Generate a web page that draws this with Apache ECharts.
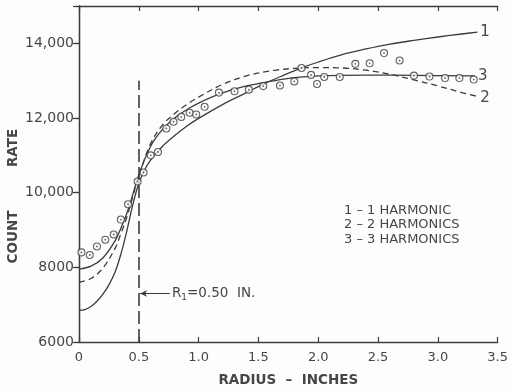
<!DOCTYPE html>
<html>
<head>
<meta charset="utf-8">
<script src="https://cdn.jsdelivr.net/npm/echarts@6/dist/echarts.min.js"></script>
<style>
  html, body { margin: 0; padding: 0; background: #fdfdfc; }
  #chart { width: 511px; height: 392px; }
</style>
</head>
<body>
<div id="chart"></div>
<script>
// Measured count rate against radius, with 1-, 2- and 3-harmonic fits.
const pointRadius = [0.02, 0.09, 0.15, 0.22, 0.29, 0.35, 0.41, 0.49, 0.54, 0.60, 0.66, 0.73, 0.79, 0.855, 0.925, 0.98, 1.05, 1.17, 1.30, 1.42, 1.54, 1.68, 1.80, 1.86, 1.94, 1.99, 2.05, 2.18, 2.31, 2.43, 2.55, 2.68, 2.80, 2.93, 3.06, 3.18, 3.30];
const pointCount = [8400, 8330, 8560, 8740, 8880, 9280, 9690, 10300, 10540, 11000, 11090, 11720, 11900, 12030, 12140, 12095, 12300, 12680, 12715, 12760, 12855, 12870, 12980, 13340, 13155, 12910, 13100, 13100, 13450, 13465, 13740, 13540, 13136, 13110, 13070, 13070, 13030];

const fit1Radius = [0, 0.05, 0.1, 0.15, 0.2, 0.25, 0.3, 0.35, 0.4, 0.45, 0.5, 0.55, 0.6, 0.7, 0.8, 0.9, 1.0, 1.2, 1.4, 1.55, 1.7, 1.86, 2.0, 2.2, 2.4, 2.6, 2.8, 3.0, 3.2, 3.33];
const fit1Count  = [6850, 6870, 6950, 7090, 7280, 7530, 7860, 8350, 8980, 9680, 10250, 10620, 10880, 11250, 11530, 11780, 11990, 12360, 12680, 12920, 13130, 13340, 13500, 13700, 13850, 13980, 14080, 14170, 14250, 14300];

const fit2Radius = [0, 0.1, 0.2, 0.3, 0.35, 0.4, 0.45, 0.5, 0.6, 0.7, 0.8, 0.9, 1.0, 1.2, 1.4, 1.6, 1.8, 2.0, 2.2, 2.4, 2.6, 2.8, 3.0, 3.2, 3.33];
const fit2Count  = [7600, 7700, 7980, 8500, 8900, 9350, 9900, 10450, 11320, 11820, 12120, 12360, 12560, 12900, 13130, 13260, 13330, 13350, 13340, 13280, 13170, 13020, 12860, 12680, 12580];

const fit3Radius = [0, 0.1, 0.2, 0.3, 0.35, 0.4, 0.45, 0.5, 0.6, 0.7, 0.8, 0.9, 1.0, 1.2, 1.4, 1.6, 1.8, 2.0, 2.4, 2.8, 3.31];
const fit3Count  = [7950, 8030, 8250, 8700, 9050, 9450, 9950, 10480, 11250, 11700, 12000, 12220, 12400, 12670, 12860, 12980, 13080, 13130, 13150, 13140, 13130];

const xTicks = { min: 0, max: 3.5, step: 0.5 };
const yTicks = { min: 6000, max: 15000, step: 2000 };

const boundaryRadius = 0.5;     // R1
const boundaryTop = 13000;
const arrowCount = 7300;

const ink = '#3c3c3c';
const textInk = '#464646';

const pairs = (xs, ys) => xs.map((x, i) => [x, ys[i]]);

function yLabel(v) {
  if (v > 14000) return '';
  return v >= 10000 ? v.toLocaleString('en-US') : String(v);
}

const chart = echarts.init(document.getElementById('chart'));

const fitLine = (name, xs, ys, dashed, labelOffset) => ({
  type: 'line',
  name: name,
  data: pairs(xs, ys),
  smooth: 0.35,
  showSymbol: false,
  symbol: 'none',
  lineStyle: { color: ink, width: 1.3, type: dashed ? [6, 4] : 'solid' },
  endLabel: {
    show: true, formatter: name, color: textInk,
    fontFamily: 'DejaVu Sans', fontSize: 15, distance: 3, offset: labelOffset
  },
  z: 3
});

chart.setOption({
  animation: false,
  backgroundColor: '#fdfdfc',
  grid: { left: 79, right: 12, top: 6, bottom: 46 },
  xAxis: [{
    type: 'value', min: xTicks.min, max: xTicks.max, interval: xTicks.step,
    name: 'RADIUS  –  INCHES', nameLocation: 'middle', nameGap: 31,
    nameTextStyle: { fontFamily: 'DejaVu Sans', fontWeight: 'bold', fontSize: 13.5, color: textInk },
    axisLine: { lineStyle: { color: ink, width: 1.3 } },
    axisTick: { inside: true, length: 5, lineStyle: { color: ink, width: 1.2 } },
    axisLabel: {
      margin: 9, color: textInk, fontFamily: 'DejaVu Sans', fontSize: 13,
      formatter: v => (v === 0 ? '0' : v.toFixed(1))
    },
    splitLine: { show: false }
  }, {
    type: 'value', position: 'top', min: xTicks.min, max: xTicks.max, interval: xTicks.step,
    axisLine: { show: true, lineStyle: { color: ink, width: 1.3 } },
    axisTick: { inside: true, length: 5, lineStyle: { color: ink, width: 1.2 } },
    axisLabel: { show: false },
    splitLine: { show: false }
  }],
  yAxis: [{
    type: 'value', min: yTicks.min, max: yTicks.max, interval: yTicks.step,
    axisLine: { show: true, lineStyle: { color: ink, width: 1.3 } },
    axisTick: { show: true, length: 4, lineStyle: { color: ink, width: 1.2 } },
    axisLabel: {
      margin: 5, color: textInk, fontFamily: 'DejaVu Sans', fontSize: 14,
      formatter: yLabel
    },
    splitLine: { show: false }
  }, {
    type: 'value', position: 'right', min: yTicks.min, max: yTicks.max, interval: yTicks.step,
    axisLine: { show: true, lineStyle: { color: ink, width: 1.3 } },
    axisTick: { show: true, inside: true, length: 6, lineStyle: { color: ink, width: 1.2 } },
    axisLabel: { show: false },
    splitLine: { show: false }
  }],
  graphic: [
    {
      type: 'text', x: 6, y: 237, rotation: Math.PI / 2, originX: 0, originY: 0,
      style: { text: 'COUNT', fill: textInk, font: 'bold 13.5px "DejaVu Sans"', align: 'center', verticalAlign: 'top' }
    },
    {
      type: 'text', x: 6, y: 148, rotation: Math.PI / 2, originX: 0, originY: 0,
      style: { text: 'RATE', fill: textInk, font: 'bold 13.5px "DejaVu Sans"', align: 'center', verticalAlign: 'top' }
    },
    {
      type: 'text', left: 344, top: 203,
      style: {
        text: '1 – 1 HARMONIC\n2 – 2 HARMONICS\n3 – 3 HARMONICS',
        fill: textInk, font: '13px "DejaVu Sans"', lineHeight: 14.5
      }
    }
  ],
  series: [
    fitLine('1', fit1Radius, fit1Count, false, [0, 0]),
    fitLine('2', fit2Radius, fit2Count, true, [0, 2]),
    fitLine('3', fit3Radius, fit3Count, false, [0, 0]),
    {
      type: 'scatter',
      name: 'measured',
      data: pairs(pointRadius, pointCount),
      symbol: 'circle', symbolSize: 7,
      itemStyle: { color: '#fdfdfc', borderColor: ink, borderWidth: 1.1 },
      z: 4,
      markLine: {
        silent: true,
        symbol: ['none', 'none'],
        animation: false,
        lineStyle: { color: ink, width: 1.6, type: [13, 5] },
        label: { show: false },
        data: [[{ coord: [boundaryRadius, yTicks.min] }, { coord: [boundaryRadius, boundaryTop] }]]
      }
    },
    {
      type: 'scatter',
      name: 'measured-centre',
      data: pairs(pointRadius, pointCount),
      symbol: 'circle', symbolSize: 1.8,
      itemStyle: { color: ink },
      z: 5,
      markLine: {
        silent: true,
        animation: false,
        symbol: ['none', 'arrow'],
        symbolSize: [5, 7],
        lineStyle: { color: ink, width: 1, type: 'solid' },
        label: {
          show: true, position: 'start', distance: 2,
          formatter: '{r|R}{s|1}{t|=0.50  IN.}',
          rich: {
            r: { fontFamily: 'DejaVu Sans', fontSize: 13.5, color: textInk },
            s: { fontFamily: 'DejaVu Sans', fontSize: 9, color: textInk, padding: [9, 0, 0, 0] },
            t: { fontFamily: 'DejaVu Sans', fontSize: 13.5, color: textInk }
          }
        },
        data: [[{ coord: [0.76, arrowCount] }, { coord: [boundaryRadius + 0.01, arrowCount] }]]
      }
    }
  ]
});
</script>
</body>
</html>
